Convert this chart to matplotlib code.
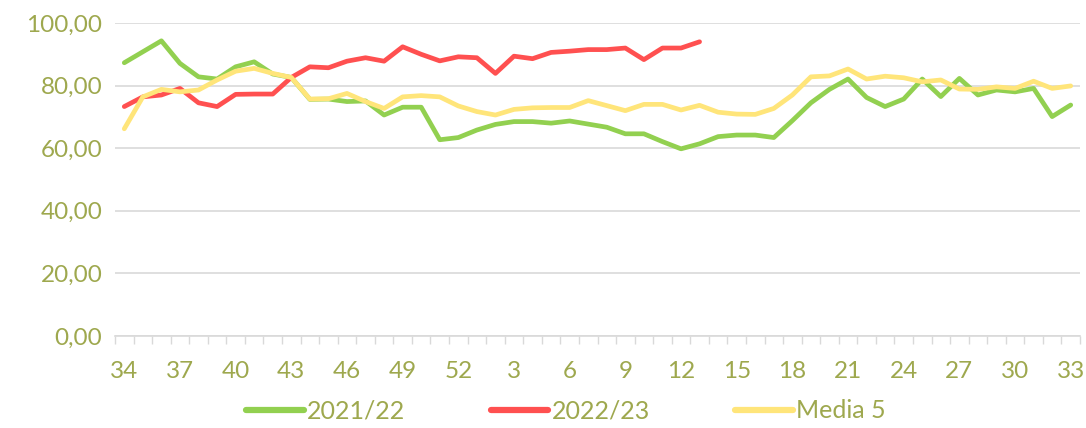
import matplotlib
matplotlib.use("Agg")
import matplotlib.pyplot as plt
import numpy as np

weeks = [str(w) for w in list(range(34, 53)) + list(range(1, 34))]

s2021 = [87.3, 90.8, 94.3, 87.1, 82.8, 82.1, 86.0, 87.6, 83.7, 82.6,
         75.6, 75.7, 74.9, 75.1, 70.6, 73.1, 73.1, 62.7, 63.4, 65.8,
         67.6, 68.5, 68.5, 68.0, 68.7, 67.7, 66.7, 64.6, 64.6, 62.1,
         59.8, 61.4, 63.7, 64.2, 64.2, 63.4, 68.8, 74.5, 78.8, 82.1,
         76.2, 73.3, 75.7, 82.1, 76.5, 82.3, 77.0, 78.6, 78.0, 79.1,
         70.1, 73.8]

s2022 = [73.3, 76.4, 77.0, 79.1, 74.5, 73.3, 77.2, 77.3, 77.3, 82.6,
         86.0, 85.7, 87.8, 88.9, 87.8, 92.4, 90.0, 87.9, 89.2, 88.9,
         83.9, 89.4, 88.6, 90.6, 91.0, 91.5, 91.5, 92.0, 88.3, 92.0,
         92.0, 94.0]

media5 = [66.2, 76.4, 78.8, 78.0, 78.6, 81.8, 84.6, 85.5, 83.9, 82.6,
          75.7, 75.8, 77.5, 74.9, 72.7, 76.4, 76.8, 76.4, 73.5, 71.7,
          70.6, 72.4, 72.9, 73.0, 73.0, 75.2, 73.6, 72.0, 74.0, 74.0,
          72.2, 73.7, 71.5, 70.9, 70.8, 72.7, 77.0, 82.8, 83.1, 85.3,
          82.1, 83.0, 82.5, 81.2, 81.8, 78.9, 78.8, 79.6, 79.1, 81.4,
          79.1, 79.9]

labels = ["2021/22", "2022/23", "Media 5"]
colors = ["#92D050", "#FF5050", "#FFE57A"]
text_color = "#9EA84E"
grid_color = "#D9D9D9"

plt.rcParams['font.family'] = ['Lato', 'DejaVu Sans']

fig = plt.figure(figsize=(10.86, 4.28), dpi=100)
ax = fig.add_axes([115/1086, 1-336/428, (1080-115)/1086, (336-23)/428])

x = np.arange(len(weeks))
for data, lab, col in zip([s2021, s2022, media5], labels, colors):
    ax.plot(x[:len(data)], data, color=col, lw=3.4, label=lab,
            solid_capstyle='round', solid_joinstyle='round', zorder=3)

ax.set_xlim(-0.5, len(weeks) - 0.5)
ax.set_ylim(0, 100)
ax.set_yticks(np.arange(0, 101, 20))
ax.set_yticklabels([f"{v:.2f}".replace('.', ',') for v in np.arange(0, 101, 20)])
ax.yaxis.grid(True, color=grid_color, lw=1.2)
ax.set_axisbelow(True)

ax.set_xticks(x[::3])
ax.set_xticklabels(weeks[::3])
ax.set_xticks(np.arange(-0.5, len(weeks), 1), minor=True)
ax.tick_params(axis='x', which='major', length=0, pad=18, labelsize=17.5, labelcolor=text_color)
ax.tick_params(axis='x', which='minor', length=5.5, width=1.0, color=grid_color)
ax.tick_params(axis='y', length=0, pad=9, labelsize=17.5, labelcolor=text_color)

for s in ['top', 'right', 'left']:
    ax.spines[s].set_visible(False)
ax.spines['bottom'].set_color(grid_color)
ax.spines['bottom'].set_linewidth(1.2)

leg = fig.legend(loc='center', bbox_to_anchor=(566/1086, 1-411/428), ncol=3,
                 frameon=False, fontsize=18, handlelength=2.3,
                 handletextpad=0.15, columnspacing=3.4, labelcolor=text_color)
for h in leg.legend_handles:
    h.set_linewidth(4.5)

fig.savefig("out.png", dpi=100)
